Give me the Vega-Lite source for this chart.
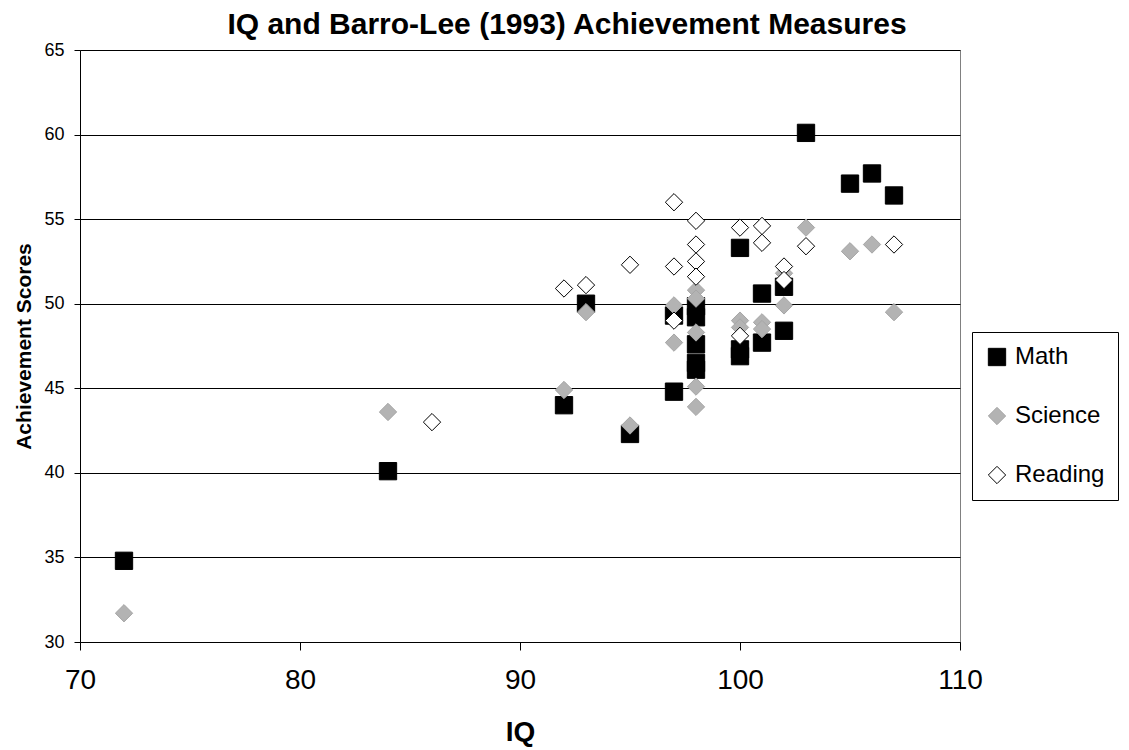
{
  "$schema": "https://vega.github.io/schema/vega-lite/v6.json",
  "width": 880,
  "height": 592,
  "autosize": "none",
  "padding": {"left": 80, "top": 50, "right": 169, "bottom": 108},
  "background": "white",
  "title": {
    "text": "IQ and Barro-Lee (1993) Achievement Measures",
    "font": "Liberation Sans",
    "fontSize": 30,
    "fontWeight": "bold",
    "color": "black",
    "anchor": "middle",
    "dx": 47,
    "offset": 1
  },
  "data": {
    "values": [
      {"series": "Math", "iq": 72, "score": 34.8},
      {"series": "Math", "iq": 84, "score": 40.1},
      {"series": "Math", "iq": 92, "score": 44.0},
      {"series": "Math", "iq": 93, "score": 50.0},
      {"series": "Math", "iq": 95, "score": 42.3},
      {"series": "Math", "iq": 97, "score": 49.3},
      {"series": "Math", "iq": 97, "score": 44.8},
      {"series": "Math", "iq": 98, "score": 49.85},
      {"series": "Math", "iq": 98, "score": 49.2},
      {"series": "Math", "iq": 98, "score": 47.6},
      {"series": "Math", "iq": 98, "score": 46.5},
      {"series": "Math", "iq": 98, "score": 46.1},
      {"series": "Math", "iq": 100, "score": 53.3},
      {"series": "Math", "iq": 100, "score": 47.3},
      {"series": "Math", "iq": 100, "score": 46.9},
      {"series": "Math", "iq": 101, "score": 50.6},
      {"series": "Math", "iq": 101, "score": 47.7},
      {"series": "Math", "iq": 102, "score": 51.0},
      {"series": "Math", "iq": 102, "score": 48.4},
      {"series": "Math", "iq": 103, "score": 60.1},
      {"series": "Math", "iq": 105, "score": 57.1},
      {"series": "Math", "iq": 106, "score": 57.7},
      {"series": "Math", "iq": 107, "score": 56.4},
      {"series": "Science", "iq": 72, "score": 31.7},
      {"series": "Science", "iq": 84, "score": 43.6},
      {"series": "Science", "iq": 92, "score": 44.9},
      {"series": "Science", "iq": 93, "score": 49.5},
      {"series": "Science", "iq": 95, "score": 42.8},
      {"series": "Science", "iq": 97, "score": 49.9},
      {"series": "Science", "iq": 97, "score": 47.7},
      {"series": "Science", "iq": 98, "score": 50.8},
      {"series": "Science", "iq": 98, "score": 50.3},
      {"series": "Science", "iq": 98, "score": 48.3},
      {"series": "Science", "iq": 98, "score": 45.1},
      {"series": "Science", "iq": 98, "score": 43.9},
      {"series": "Science", "iq": 100, "score": 49.0},
      {"series": "Science", "iq": 100, "score": 48.6},
      {"series": "Science", "iq": 101, "score": 48.9},
      {"series": "Science", "iq": 101, "score": 48.5},
      {"series": "Science", "iq": 102, "score": 51.8},
      {"series": "Science", "iq": 102, "score": 49.9},
      {"series": "Science", "iq": 103, "score": 54.5},
      {"series": "Science", "iq": 105, "score": 53.1},
      {"series": "Science", "iq": 106, "score": 53.5},
      {"series": "Science", "iq": 107, "score": 49.5},
      {"series": "Reading", "iq": 86, "score": 43.0},
      {"series": "Reading", "iq": 92, "score": 50.9},
      {"series": "Reading", "iq": 93, "score": 51.1},
      {"series": "Reading", "iq": 95, "score": 52.3},
      {"series": "Reading", "iq": 97, "score": 56.0},
      {"series": "Reading", "iq": 97, "score": 52.2},
      {"series": "Reading", "iq": 97, "score": 49.0},
      {"series": "Reading", "iq": 98, "score": 54.9},
      {"series": "Reading", "iq": 98, "score": 53.5},
      {"series": "Reading", "iq": 98, "score": 52.5},
      {"series": "Reading", "iq": 98, "score": 51.6},
      {"series": "Reading", "iq": 100, "score": 54.5},
      {"series": "Reading", "iq": 100, "score": 48.1},
      {"series": "Reading", "iq": 101, "score": 54.6},
      {"series": "Reading", "iq": 101, "score": 53.6},
      {"series": "Reading", "iq": 102, "score": 52.2},
      {"series": "Reading", "iq": 102, "score": 51.4},
      {"series": "Reading", "iq": 103, "score": 53.4},
      {"series": "Reading", "iq": 107, "score": 53.5}
    ]
  },
  "mark": {"type": "point", "filled": false, "opacity": 1, "fillOpacity": 1, "strokeOpacity": 1},
  "encoding": {
    "x": {
      "field": "iq", "type": "quantitative",
      "scale": {"domain": [70, 110], "nice": false, "zero": false},
      "axis": {
        "title": "IQ",
        "values": [70, 80, 90, 100, 110],
        "grid": false,
        "labelFlush": false,
        "labelOverlap": false,
        "domainColor": "black",
        "tickColor": "black",
        "tickSize": 8,
        "labelFontSize": 28,
        "labelFont": "Liberation Sans",
        "labelColor": "black",
        "labelPadding": 16,
        "titleFontSize": 28,
        "titleFont": "Liberation Sans",
        "titleFontWeight": "bold",
        "titleColor": "black",
        "titlePadding": 24
      }
    },
    "y": {
      "field": "score", "type": "quantitative",
      "scale": {"domain": [30, 65], "nice": false, "zero": false},
      "axis": {
        "title": "Achievement Scores",
        "values": [30, 35, 40, 45, 50, 55, 60, 65],
        "grid": true,
        "labelFlush": false,
        "gridColor": "black",
        "gridOpacity": 1,
        "gridWidth": 1,
        "domainColor": "black",
        "tickColor": "black",
        "tickSize": 6,
        "labelFontSize": 18,
        "labelFont": "Liberation Sans",
        "labelColor": "black",
        "labelPadding": 10,
        "titleFontSize": 21,
        "titleFont": "Liberation Sans",
        "titleFontWeight": "bold",
        "titleColor": "black",
        "titlePadding": 9
      }
    },
    "shape": {
      "field": "series", "type": "nominal", "title": null,
      "scale": {"domain": ["Math", "Science", "Reading"], "range": ["square", "diamond", "diamond"]}
    },
    "fill": {
      "field": "series", "type": "nominal", "title": null,
      "scale": {"domain": ["Math", "Science", "Reading"], "range": ["#000000", "#b3b3b3", "#ffffff"]}
    },
    "stroke": {
      "field": "series", "type": "nominal", "title": null,
      "scale": {"domain": ["Math", "Science", "Reading"], "range": ["#000000", "#a6a6a6", "#000000"]}
    },
    "size": {
      "field": "series", "type": "nominal", "title": null,
      "scale": {"domain": ["Math", "Science", "Reading"], "range": [300, 300, 225]}
    },
    "strokeWidth": {
      "field": "series", "type": "nominal", "title": null,
      "scale": {"domain": ["Math", "Science", "Reading"], "range": [1, 1, 2]}
    }
  },
  "config": {
    "view": {"stroke": "#808080", "strokeWidth": 1},
    "legend": {
      "orient": "none",
      "legendX": 892,
      "legendY": 282,
      "padding": 13,
      "strokeColor": "black",
      "fillColor": "white",
      "labelFontSize": 24,
      "labelFont": "Liberation Sans",
      "labelColor": "black",
      "labelOffset": 6,
      "rowPadding": 35,
      "symbolOpacity": 1
    }
  }
}
